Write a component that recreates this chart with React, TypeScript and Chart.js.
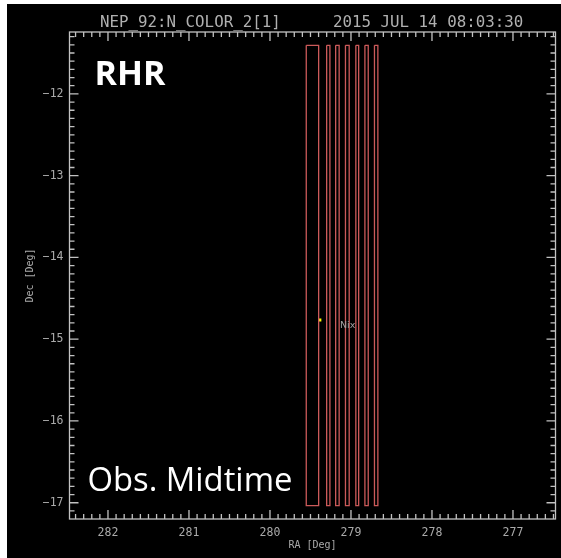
import React, { useEffect, useRef } from "react";
import { Chart, registerables } from "chart.js";

Chart.register(...registerables);

// ---- data ----
const RA_TICKS = [282, 281, 280, 279, 278, 277];
const DEC_TICKS = [-12, -13, -14, -15, -16, -17];
const RA_RANGE = [276.475, 282.475];
const DEC_RANGE = [-17.199, -11.243];

// footprint columns (RA left / right edges, Dec top / bottom)
const FOOT_RA_LEFT = [279.552, 279.3, 279.189, 279.068, 278.94, 278.828, 278.71];
const FOOT_RA_RIGHT = [279.399, 279.26, 279.146, 279.022, 278.905, 278.787, 278.668];
const FOOT_DEC_TOP = [-11.406, -11.406, -11.406, -11.406, -11.406, -11.406, -11.406];
const FOOT_DEC_BOTTOM = [-17.036, -17.036, -17.036, -17.036, -17.036, -17.036, -17.036];

const TARGET_NAMES = ["Nix"];
const TARGET_RA = [279.383];
const TARGET_DEC = [-14.765];

const TITLE_LEFT = "NEP_92:N_COLOR_2[1]";
const TITLE_RIGHT = "2015 JUL 14 08:03:30";
const X_TITLE = "RA [Deg]";
const Y_TITLE = "Dec [Deg]";
const NOTE_TOP = "RHR";
const NOTE_BOTTOM = "Obs. Midtime";

const AXIS_COLOR = "#c2c2c2";
const LABEL_COLOR = "#aaaaaa";
const FOOT_COLOR = "rgb(204,90,90)";

const fmt = (v: number) => (v < 0 ? "\u2212" + Math.abs(v) : String(v));

const idlAxes = {
  id: "idlAxes",
  afterDatasetsDraw(chart: any) {
    const { ctx, chartArea } = chart;
    const xs = chart.scales.x;
    const ys = chart.scales.y;
    const { left, right, top, bottom } = chartArea;
    ctx.save();
    // box
    ctx.strokeStyle = AXIS_COLOR;
    ctx.lineWidth = 1.3;
    ctx.strokeRect(left, top, right - left, bottom - top);
    // ticks
    const major = 9;
    const minor = 5;
    ctx.beginPath();
    const xmin = Math.min(xs.min, xs.max);
    const xmax = Math.max(xs.min, xs.max);
    for (let k = Math.ceil(xmin * 10); k <= Math.floor(xmax * 10); k++) {
      const v = k / 10;
      const px = xs.getPixelForValue(v);
      const len = k % 10 === 0 ? major : minor;
      ctx.moveTo(px, bottom);
      ctx.lineTo(px, bottom - len);
      ctx.moveTo(px, top);
      ctx.lineTo(px, top + len);
    }
    const ymin = Math.min(ys.min, ys.max);
    const ymax = Math.max(ys.min, ys.max);
    for (let k = Math.ceil(ymin * 10); k <= Math.floor(ymax * 10); k++) {
      const v = k / 10;
      const py = ys.getPixelForValue(v);
      const len = k % 10 === 0 ? major : minor;
      ctx.moveTo(left, py);
      ctx.lineTo(left + len, py);
      ctx.moveTo(right, py);
      ctx.lineTo(right - len, py);
    }
    ctx.stroke();

    // tick labels
    ctx.fillStyle = LABEL_COLOR;
    ctx.font = '11.5px "DejaVu Sans Mono"';
    ctx.textAlign = "center";
    ctx.textBaseline = "alphabetic";
    RA_TICKS.forEach((v) => {
      ctx.fillText(fmt(v), xs.getPixelForValue(v), bottom + 17);
    });
    ctx.textAlign = "right";
    ctx.textBaseline = "middle";
    DEC_TICKS.forEach((v) => {
      ctx.fillText(fmt(v), left - 6, ys.getPixelForValue(v));
    });

    // axis titles
    ctx.font = '10px "DejaVu Sans Mono"';
    ctx.textAlign = "center";
    ctx.textBaseline = "alphabetic";
    ctx.fillText(X_TITLE, (left + right) / 2, bottom + 29);
    ctx.save();
    ctx.translate(left - 37, (top + bottom) / 2);
    ctx.rotate(-Math.PI / 2);
    ctx.fillText(Y_TITLE, 0, 0);
    ctx.restore();

    // title
    ctx.font = '15.8px "DejaVu Sans Mono"';
    ctx.textAlign = "left";
    ctx.fillStyle = "#b0b0b0";
    ctx.fillText(TITLE_LEFT, left + 30.5, top - 5);
    ctx.fillText(TITLE_RIGHT, left + 263.5, top - 5);

    // target labels
    ctx.font = '9.5px "DejaVu Sans"';
    ctx.fillStyle = "#a0a0a0";
    ctx.textBaseline = "middle";
    TARGET_NAMES.forEach((n, i) => {
      const px = xs.getPixelForValue(TARGET_RA[i]);
      const py = ys.getPixelForValue(TARGET_DEC[i]);
      ctx.fillText(n, px + 20, py + 6);
    });

    // annotations
    ctx.fillStyle = "#ffffff";
    ctx.textBaseline = "alphabetic";
    ctx.font = 'bold 34px "Open Sans"';
    ctx.fillText(NOTE_TOP, left + 25, top + 53);
    ctx.font = '32.8px "Open Sans"';
    ctx.fillText(NOTE_BOTTOM, left + 18, bottom - 28);
    ctx.restore();
  },
};

export default function App() {
  const ref = useRef<HTMLCanvasElement | null>(null);
  useEffect(() => {
    if (!ref.current) return;
    const footDatasets = FOOT_RA_LEFT.map((l, i) => {
      const r = FOOT_RA_RIGHT[i];
      const t = FOOT_DEC_TOP[i];
      const b = FOOT_DEC_BOTTOM[i];
      return {
        type: "line" as const,
        data: [
          { x: l, y: t },
          { x: r, y: t },
          { x: r, y: b },
          { x: l, y: b },
          { x: l, y: t },
        ],
        showLine: true,
        borderColor: FOOT_COLOR,
        borderWidth: 1.3,
        pointRadius: 0,
        fill: false,
        tension: 0,
      };
    });
    const targetDataset = {
      type: "scatter" as const,
      data: TARGET_RA.map((x, i) => ({ x, y: TARGET_DEC[i] })),
      pointStyle: "rect",
      pointRadius: 2,
      backgroundColor: "#ffff00",
      borderColor: "#ffff00",
      borderWidth: 0,
    };
    const chart = new Chart(ref.current, {
      type: "scatter",
      data: { datasets: [...footDatasets, targetDataset] as any },
      options: {
        responsive: false,
        animation: false,
        layout: { padding: { left: 62.5, right: 5.5, top: 28, bottom: 39 } },
        plugins: { legend: { display: false }, tooltip: { enabled: false } },
        scales: {
          x: { type: "linear", reverse: true, min: RA_RANGE[0], max: RA_RANGE[1], display: false },
          y: { type: "linear", min: DEC_RANGE[0], max: DEC_RANGE[1], display: false },
        },
      },
      plugins: [idlAxes],
    });
    return () => chart.destroy();
  }, []);
  return (
    <div style={{ position: "absolute", left: 7, top: 4, width: 554, height: 554, background: "#000" }}>
      <canvas ref={ref} width={554} height={554} style={{ width: 554, height: 554, display: "block" }} />
    </div>
  );
}
